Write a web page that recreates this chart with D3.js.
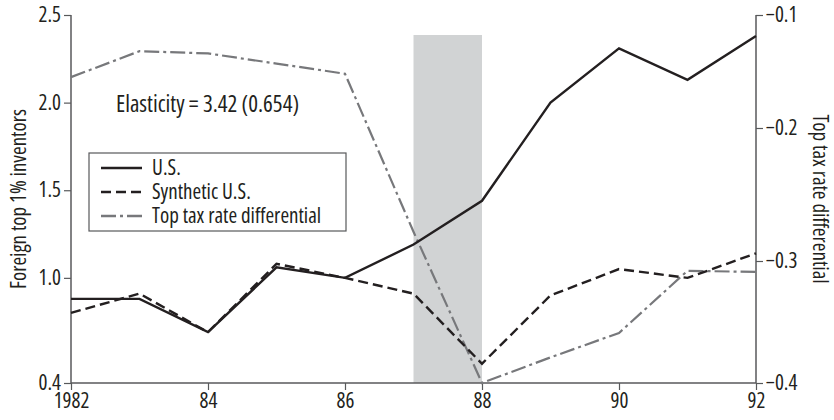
<!DOCTYPE html>
<html>
<head>
<meta charset="utf-8">
<script src="https://cdn.jsdelivr.net/npm/d3@7"></script>
<style>
  body { margin: 0; background: #fff; }
  svg text { font-family: "Open Sans", sans-serif; font-stretch: condensed; fill: #231f20; }
</style>
</head>
<body>
<svg id="chart" width="834" height="420"></svg>
<script>
// values
const years = [1982, 1983, 1984, 1985, 1986, 1987, 1988, 1989, 1990, 1991, 1992];
const usValues = [0.88, 0.88, 0.69, 1.06, 1.00, 1.19, 1.44, 2.00, 2.31, 2.13, 2.38];
const synthValues = [0.80, 0.91, 0.69, 1.08, 1.00, 0.91, 0.51, 0.90, 1.05, 1.00, 1.14];
const taxValues = [-0.155, -0.132, -0.134, -0.143, -0.152, -0.278, -0.400, -0.379, -0.359, -0.308, -0.309];

const xTicks = [1982, 1984, 1986, 1988, 1990, 1992];
const xTickLabels = ["1982", "84", "86", "88", "90", "92"];
const leftTicks = [0.4, 1.0, 1.5, 2.0, 2.5];
const rightTicks = [-0.4, -0.3, -0.2, -0.1];
const shadeYears = [1987, 1988];

const legendItems = [
    { label: "U.S.", color: "#231f20", dash: null },
    { label: "Synthetic U.S.", color: "#231f20", dash: "10,5" },
    { label: "Top tax rate differential", color: "#77787b", dash: "15,4,3,4" }
];

const svg = d3.select("#chart");

const x = d3.scaleLinear().domain([1982, 1992]).range([71, 756]);
const yL = d3.scaleLinear().domain([0.4, 2.5]).range([383, 15]);
// right axis spacing in the reference is not even, follow it
const yR = d3.scaleLinear().domain([-0.4, -0.3, -0.2, -0.1]).range([383, 261, 128, 15]);

// shaded window
svg.append("rect")
    .attr("x", x(shadeYears[0]))
    .attr("y", 35)
    .attr("width", x(shadeYears[1]) - x(shadeYears[0]))
    .attr("height", yL(0.4) - 35)
    .attr("fill", "#d1d3d4");

// axes
const axisColor = "#58595b";
const fmt = d3.format(".1f");

const gLeft = svg.append("g")
    .attr("transform", `translate(${x(1982)},0)`)
    .call(d3.axisLeft(yL).tickValues(leftTicks).tickFormat(fmt).tickSize(7).tickPadding(3));

const gRight = svg.append("g")
    .attr("transform", `translate(${x(1992)},0)`)
    .call(d3.axisRight(yR).tickValues(rightTicks).tickFormat(fmt).tickSize(7).tickPadding(3));

const gBottom = svg.append("g")
    .attr("transform", `translate(0,${yL(0.4)})`)
    .call(d3.axisBottom(x).tickValues(xTicks).tickFormat((d, i) => xTickLabels[i]).tickSize(7).tickPadding(3));

[gLeft, gRight, gBottom].forEach(g => {
    g.attr("font-family", null).attr("font-size", null);
    g.select(".domain").attr("stroke", axisColor).attr("stroke-width", 1.5);
    g.selectAll(".tick line").attr("stroke", axisColor).attr("stroke-width", 1.2);
    g.selectAll(".tick text").attr("font-size", 21).attr("fill", "#231f20");
});
gLeft.select(".domain").attr("d", `M0,${yL(2.5)}V${yL(0.4)}`);
gRight.select(".domain").attr("d", `M0,${yR(-0.1)}V${yR(-0.4)}`);
gBottom.select(".domain").attr("d", `M${x(1982)},0H${x(1992)}`);

// axis titles
svg.append("text")
    .attr("transform", `translate(19,${(yL(2.5) + yL(0.4)) / 2}) rotate(-90)`)
    .attr("text-anchor", "middle")
    .attr("dy", "0.35em")
    .attr("font-size", 21)
    .text("Foreign top 1% inventors");

svg.append("text")
    .attr("transform", `translate(820,${(yL(2.5) + yL(0.4)) / 2}) rotate(90)`)
    .attr("text-anchor", "middle")
    .attr("dy", "0.35em")
    .attr("font-size", 21)
    .text("Top tax rate differential");

// lines
const lineL = d3.line().x((d, i) => x(years[i])).y(d => yL(d));
const lineR = d3.line().x((d, i) => x(years[i])).y(d => yR(d));

svg.append("path")
    .attr("d", lineR(taxValues))
    .attr("fill", "none")
    .attr("stroke", legendItems[2].color)
    .attr("stroke-width", 2.2)
    .attr("stroke-dasharray", legendItems[2].dash);

svg.append("path")
    .attr("d", lineL(synthValues))
    .attr("fill", "none")
    .attr("stroke", legendItems[1].color)
    .attr("stroke-width", 2.4)
    .attr("stroke-dasharray", legendItems[1].dash);

svg.append("path")
    .attr("d", lineL(usValues))
    .attr("fill", "none")
    .attr("stroke", legendItems[0].color)
    .attr("stroke-width", 2.4);

// annotation
svg.append("text")
    .attr("x", 116)
    .attr("y", 104)
    .attr("dy", "0.35em")
    .attr("font-size", 23)
    .text("Elasticity = 3.42 (0.654)");

// legend
const legend = svg.append("g").attr("transform", "translate(89,153)");
legend.append("rect")
    .attr("width", 257)
    .attr("height", 78)
    .attr("fill", "#fff")
    .attr("stroke", "#58595b")
    .attr("stroke-width", 1.2);

const rows = legend.selectAll("g.row")
    .data(legendItems)
    .join("g")
    .attr("class", "row")
    .attr("transform", (d, i) => `translate(0,${15 + i * 24})`);

rows.append("line")
    .attr("x1", 12).attr("x2", 53)
    .attr("stroke", d => d.color)
    .attr("stroke-width", 2.4)
    .attr("stroke-dasharray", d => d.dash);

rows.append("text")
    .attr("x", 63)
    .attr("dy", "0.35em")
    .attr("font-size", 21)
    .text(d => d.label);
</script>
</body>
</html>
